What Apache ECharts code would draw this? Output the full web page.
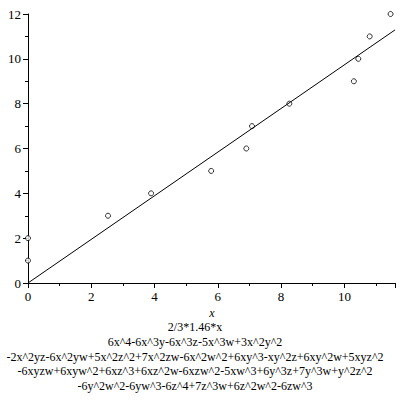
<!DOCTYPE html>
<html>
<head>
<meta charset="utf-8">
<script src="https://cdn.jsdelivr.net/npm/echarts@6/dist/echarts.min.js"></script>
<style>
  html, body { margin: 0; padding: 0; background: #fff; }
  #chart { width: 400px; height: 400px; }
</style>
</head>
<body>
<div id="chart"></div>
<script>
// data points
const pointX = [0, 0, 2.53, 3.89, 5.79, 6.9, 7.08, 8.26, 10.3, 10.44, 10.8, 11.46];
const pointY = [2, 1, 3, 4, 5, 6, 7, 8, 9, 10, 11, 12];
// fitted line 2/3*1.46*x, end points
const lineX = [0, 11.6];
const lineY = [0, 11.29];
const captionLines = [
  '2/3*1.46*x',
  '6x^4-6x^3y-6x^3z-5x^3w+3x^2y^2',
  '-2x^2yz-6x^2yw+5x^2z^2+7x^2zw-6x^2w^2+6xy^3-xy^2z+6xy^2w+5xyz^2',
  '-6xyzw+6xyw^2+6xz^3+6xz^2w-6xzw^2-5xw^3+6y^3z+7y^3w+y^2z^2',
  '-6y^2w^2-6yw^3-6z^4+7z^3w+6z^2w^2-6zw^3'
];

const font = 'Liberation Serif';
const chart = echarts.init(document.getElementById('chart'), null, {renderer: 'svg'});

const graphics = [{
  type: 'text', x: 212, y: 307,
  style: {text: 'x', fontFamily: font, fontStyle: 'italic', fontSize: 12, fill: '#000', align: 'center'}
}];
captionLines.forEach((t, i) => {
  graphics.push({
    type: 'text', x: 195, y: 321 + i * 14.8,
    style: {text: t, fontFamily: font, fontSize: 12, fill: '#000', align: 'center'}
  });
});

const option = {
  animation: false,
  grid: {left: 28, right: 5, top: 14, bottom: 117},
  xAxis: {
    type: 'value', min: 0, max: 11.6, interval: 2,
    splitLine: {show: false},
    axisLine: {lineStyle: {color: '#000', width: 1}},
    axisTick: {show: true, length: 5, lineStyle: {color: '#000'}},
    minorTick: {show: true, splitNumber: 2, length: 3, lineStyle: {color: '#000'}},
    axisLabel: {color: '#000', fontFamily: font, fontSize: 13, margin: 7, showMaxLabel: false}
  },
  yAxis: {
    type: 'value', min: 0, max: 12, interval: 2,
    splitLine: {show: false},
    axisLine: {show: true, lineStyle: {color: '#000', width: 1}},
    axisTick: {show: true, length: 5, lineStyle: {color: '#000'}},
    minorTick: {show: true, splitNumber: 2, length: 3, lineStyle: {color: '#000'}},
    axisLabel: {color: '#000', fontFamily: font, fontSize: 13, margin: 7}
  },
  series: [
    {
      type: 'line',
      data: lineX.map((x, i) => [x, lineY[i]]),
      showSymbol: false,
      lineStyle: {color: '#000', width: 1}
    },
    {
      type: 'scatter',
      data: pointX.map((x, i) => [x, pointY[i]]),
      symbol: 'circle',
      symbolSize: 5,
      itemStyle: {color: '#fff', borderColor: '#000', borderWidth: 1}
    }
  ],
  graphic: graphics
};
chart.setOption(option);
</script>
</body>
</html>
